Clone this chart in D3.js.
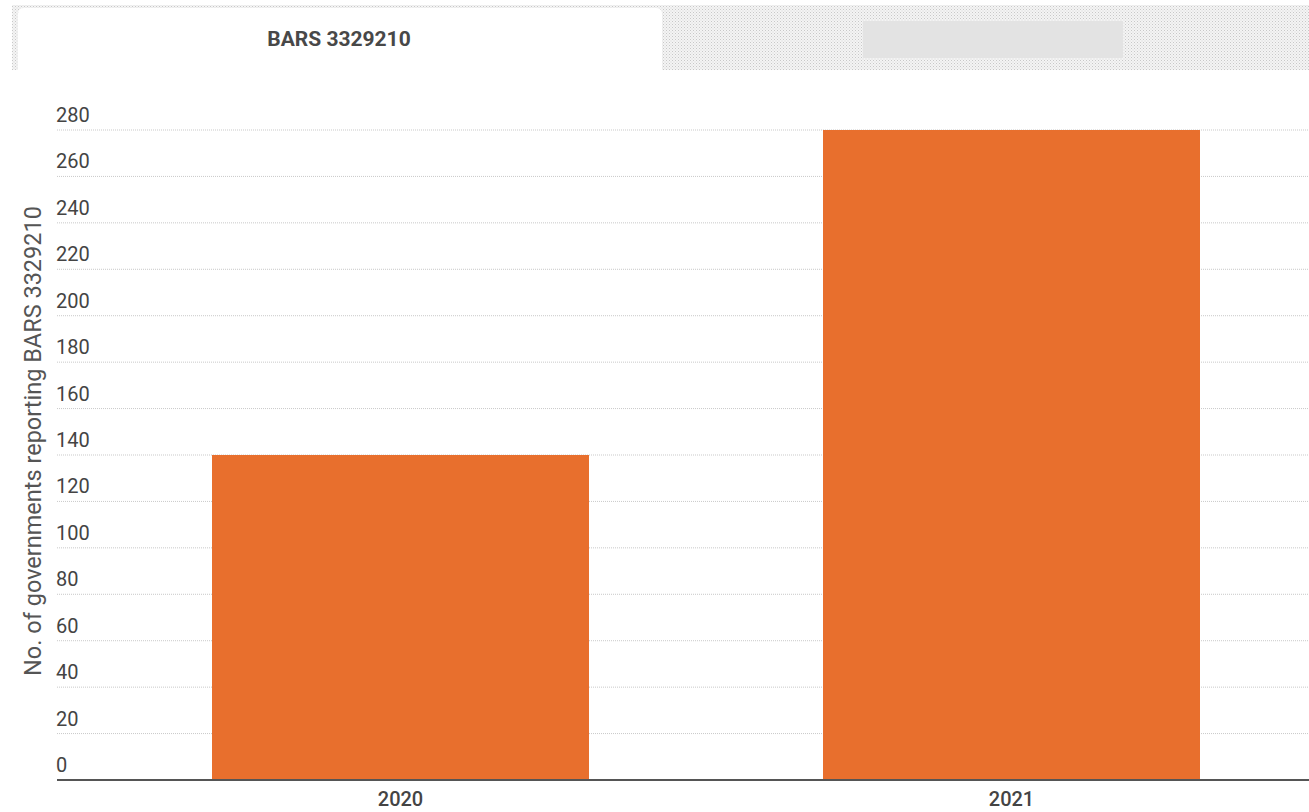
<!DOCTYPE html>
<html>
<head>
<meta charset="utf-8">
<script src="https://cdn.jsdelivr.net/npm/d3@7/dist/d3.min.js"></script>
<style>
  html, body { margin: 0; padding: 0; background: #fff; }
  svg { display: block; font-family: Roboto, "Noto Sans", sans-serif; }
</style>
</head>
<body>
<svg id="chart" width="1309" height="812"></svg>
<script>
// Data
const years = ["2020", "2021"];
const counts = [140, 280];
const yTicks = [0, 20, 40, 60, 80, 100, 120, 140, 160, 180, 200, 220, 240, 260, 280];
const tabTitle = "BARS 3329210";
const yTitle = "No. of governments reporting BARS 3329210";

const svg = d3.select("#chart");

// Tab strip with a dotted background
const defs = svg.append("defs");
const pat = defs.append("pattern")
  .attr("id", "dots").attr("width", 3).attr("height", 3)
  .attr("patternUnits", "userSpaceOnUse");
pat.append("rect").attr("width", 3).attr("height", 3).attr("fill", "#f4f4f4");
pat.append("rect").attr("width", 1).attr("height", 1).attr("fill", "#c8c8c8");
pat.append("rect").attr("x", 1.5).attr("y", 1.5).attr("width", 1).attr("height", 1).attr("fill", "#d6d6d6");

svg.append("rect").attr("x", 12).attr("y", 5).attr("width", 1297).attr("height", 65)
  .attr("fill", "url(#dots)");
svg.append("path")
  .attr("d", "M18,70 L18,14 Q18,8 24,8 L656,8 Q662,8 662,14 L662,70 Z")
  .attr("fill", "#fff");
svg.append("text").attr("x", 339).attr("y", 46).attr("text-anchor", "middle")
  .attr("font-size", 21).attr("font-weight", 700).attr("fill", "#484848")
  .text(tabTitle);
svg.append("rect").attr("x", 863).attr("y", 21).attr("width", 260).attr("height", 37)
  .attr("fill", "#e3e3e3");

// Scales
const y = d3.scaleLinear().domain([0, 280]).range([780, 130]);
const x = d3.scaleBand().domain(years).range([95, 1317])
  .paddingInner(0.383).paddingOuter(0.1915);

// Gridlines and tick labels
const grid = svg.append("g");
yTicks.forEach(t => {
  if (t !== 0) {
    grid.append("line")
      .attr("x1", 57).attr("x2", 1309)
      .attr("y1", y(t)).attr("y2", y(t))
      .attr("stroke", "#c9c9c9").attr("stroke-width", 1)
      .attr("stroke-dasharray", "1,1");
  }
  grid.append("text")
    .attr("x", 56).attr("y", y(t) - 8)
    .attr("font-size", 20).attr("fill", "#444")
    .text(t);
});

// Bars
svg.append("g").selectAll("rect").data(years).join("rect")
  .attr("x", d => x(d))
  .attr("width", x.bandwidth())
  .attr("y", (d, i) => y(counts[i]))
  .attr("height", (d, i) => y(0) - y(counts[i]))
  .attr("fill", "#e86f2d");

// Baseline
svg.append("line").attr("x1", 57).attr("x2", 1309)
  .attr("y1", 780).attr("y2", 780)
  .attr("stroke", "#555").attr("stroke-width", 2);

// X labels
svg.append("g").selectAll("text").data(years).join("text")
  .attr("x", d => x(d) + x.bandwidth() / 2)
  .attr("y", 806)
  .attr("text-anchor", "middle")
  .attr("font-size", 20).attr("font-weight", 500).attr("fill", "#444")
  .text(d => d);

// Y axis title
svg.append("text")
  .attr("transform", "translate(41,441) rotate(-90)")
  .attr("text-anchor", "middle")
  .attr("font-size", 23.5).attr("fill", "#555")
  .text(yTitle);
</script>
</body>
</html>
